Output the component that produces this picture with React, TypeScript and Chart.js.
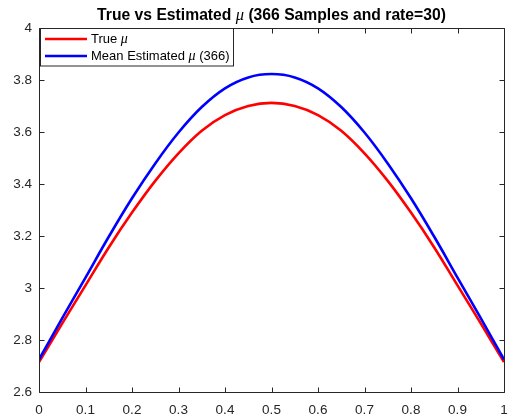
import React, { useEffect, useRef } from "react";
import { Chart, registerables } from "chart.js";

Chart.register(...registerables);

// ---- data ----
const xValues = [0, 0.05, 0.1, 0.15, 0.2, 0.25, 0.3, 0.35, 0.4, 0.45, 0.5, 0.55, 0.6, 0.65, 0.7, 0.75, 0.8, 0.85, 0.9, 0.95, 1];
const trueMu = [2.715, 2.864, 3.01, 3.156, 3.29, 3.412, 3.518, 3.605, 3.665, 3.700, 3.712, 3.700, 3.665, 3.605, 3.518, 3.412, 3.29, 3.156, 3.01, 2.864, 2.715];
const estimatedMu = [2.725, 2.884, 3.04, 3.197, 3.345, 3.479, 3.598, 3.696, 3.768, 3.810, 3.823, 3.810, 3.768, 3.696, 3.598, 3.479, 3.345, 3.197, 3.04, 2.884, 2.725];
const xTicks = [0, 0.1, 0.2, 0.3, 0.4, 0.5, 0.6, 0.7, 0.8, 0.9, 1];
const yTicks = [2.6, 2.8, 3, 3.2, 3.4, 3.6, 3.8, 4];
const titleParts = [
  { text: "True vs Estimated ", math: false },
  { text: "μ", math: true },
  { text: " (366 Samples and rate=30)", math: false },
];
const legendEntries = [
  { before: "True ", after: "", color: "#ff0000" },
  { before: "Mean Estimated ", after: " (366)", color: "#0000ff" },
];

const AXIS_COLOR = "#262626";
const SANS = '"Liberation Sans", Arial, Helvetica, sans-serif';
const SERIF = '"Liberation Serif", "DejaVu Serif", serif';

const fmt = (v: number) => String(Number(v.toFixed(2)));

const overlayPlugin = {
  id: "overlay",
  afterDraw(chart: any) {
    const { ctx, chartArea: a, scales } = chart;
    const xs = scales.x;
    const ys = scales.y;
    ctx.save();

    // axes box
    ctx.strokeStyle = AXIS_COLOR;
    ctx.lineWidth = 1;
    const L = Math.round(a.left) + 0.5;
    const R = Math.round(a.right) + 0.5;
    const T = Math.round(a.top) + 0.5;
    const B = Math.round(a.bottom) + 0.5;
    ctx.beginPath();
    ctx.moveTo(L, T);
    ctx.lineTo(R, T);
    ctx.lineTo(R, B);
    ctx.lineTo(L, B);
    ctx.closePath();
    ctx.stroke();

    // inward ticks
    const tl = 5;
    ctx.beginPath();
    xTicks.forEach((v) => {
      const p = Math.round(xs.getPixelForValue(v)) + 0.5;
      ctx.moveTo(p, B);
      ctx.lineTo(p, B - tl);
      ctx.moveTo(p, T);
      ctx.lineTo(p, T + tl);
    });
    yTicks.forEach((v) => {
      const p = Math.round(ys.getPixelForValue(v)) + 0.5;
      ctx.moveTo(L, p);
      ctx.lineTo(L + tl, p);
      ctx.moveTo(R, p);
      ctx.lineTo(R - tl, p);
    });
    ctx.stroke();

    // title
    const titleFont = `bold 15.7px ${SANS}`;
    const titleMath = `italic 16.5px ${SERIF}`;
    let total = 0;
    const widths = titleParts.map((p) => {
      ctx.font = p.math ? titleMath : titleFont;
      const w = ctx.measureText(p.text).width;
      total += w;
      return w;
    });
    let tx = (a.left + a.right) / 2 - total / 2;
    ctx.fillStyle = "#000000";
    ctx.textBaseline = "alphabetic";
    ctx.textAlign = "left";
    titleParts.forEach((p, i) => {
      ctx.font = p.math ? titleMath : titleFont;
      ctx.fillText(p.text, tx, 20);
      tx += widths[i];
    });

    // legend
    const lx = Math.round(a.left) + 1.5;
    const ly = T;
    const lw = 193;
    const lh = 37.5;
    ctx.fillStyle = "#ffffff";
    ctx.fillRect(lx, ly, lw, lh);
    ctx.strokeStyle = AXIS_COLOR;
    ctx.lineWidth = 1;
    ctx.strokeRect(lx, ly, lw, lh);
    const rows = [ly + 10.5, ly + 27.5];
    legendEntries.forEach((e, i) => {
      const y = rows[i];
      ctx.strokeStyle = e.color;
      ctx.lineWidth = 2.5;
      ctx.beginPath();
      ctx.moveTo(lx + 4.5, y);
      ctx.lineTo(lx + 46.5, y);
      ctx.stroke();
      ctx.fillStyle = "#000000";
      ctx.textBaseline = "middle";
      let x = lx + 50.5;
      ctx.font = `13px ${SANS}`;
      ctx.fillText(e.before, x, y);
      x += ctx.measureText(e.before).width;
      ctx.font = `italic 14px ${SERIF}`;
      ctx.fillText("μ", x, y);
      x += ctx.measureText("μ").width;
      if (e.after) {
        ctx.font = `13px ${SANS}`;
        ctx.fillText(e.after, x, y);
      }
    });

    ctx.restore();
  },
};

export default function App() {
  const canvasRef = useRef<HTMLCanvasElement | null>(null);

  useEffect(() => {
    if (!canvasRef.current) return;
    const chart = new Chart(canvasRef.current, {
      type: "line",
      data: {
        datasets: [
          {
            label: "True μ",
            data: xValues.map((x, i) => ({ x, y: trueMu[i] })),
            borderColor: "#ff0000",
            backgroundColor: "#ff0000",
            borderWidth: 2.6,
            pointRadius: 0,
            tension: 0.4,
            fill: false,
            order: 1,
          },
          {
            label: "Mean Estimated μ (366)",
            data: xValues.map((x, i) => ({ x, y: estimatedMu[i] })),
            borderColor: "#0000ff",
            backgroundColor: "#0000ff",
            borderWidth: 2.6,
            pointRadius: 0,
            tension: 0.4,
            fill: false,
            order: 0,
          },
        ],
      },
      options: {
        animation: false,
        responsive: true,
        maintainAspectRatio: false,
        events: [],
        layout: { padding: { top: 28, left: 0, right: 9, bottom: 0 } },
        plugins: {
          legend: { display: false },
          title: { display: false },
          tooltip: { enabled: false },
        },
        scales: {
          x: {
            type: "linear",
            min: 0,
            max: 1,
            afterBuildTicks: (s: any) => {
              s.ticks = xTicks.map((v) => ({ value: v }));
            },
            afterFit: (s: any) => {
              s.height = 28;
              s.paddingLeft = 0;
              s.paddingRight = 0;
            },
            grid: { display: false, drawTicks: false },
            border: { display: false },
            ticks: {
              callback: (v: any) => fmt(Number(v)),
              color: AXIS_COLOR,
              font: { family: SANS, size: 13.5 },
              padding: 10,
              maxRotation: 0,
              autoSkip: false,
            },
          },
          y: {
            type: "linear",
            min: 2.6,
            max: 4,
            afterBuildTicks: (s: any) => {
              s.ticks = yTicks.map((v) => ({ value: v }));
            },
            afterFit: (s: any) => {
              s.width = 39;
              s.paddingTop = 0;
              s.paddingBottom = 0;
            },
            grid: { display: false, drawTicks: false },
            border: { display: false },
            ticks: {
              callback: (v: any) => fmt(Number(v)),
              color: AXIS_COLOR,
              font: { family: SANS, size: 13.5 },
              padding: 7,
              autoSkip: false,
            },
          },
        },
      },
      plugins: [overlayPlugin],
    } as any);
    return () => chart.destroy();
  }, []);

  return (
    <div style={{ position: "fixed", left: 0, top: 0, width: 513, height: 420, background: "#ffffff" }}>
      <canvas ref={canvasRef} />
    </div>
  );
}
